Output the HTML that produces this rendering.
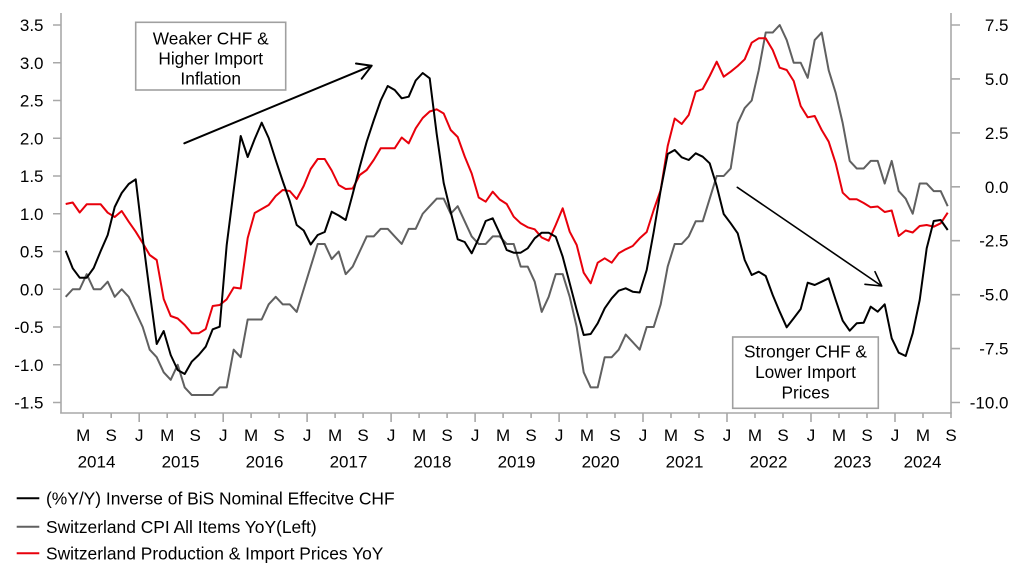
<!DOCTYPE html>
<html><head><meta charset="utf-8"><style>
html,body{margin:0;padding:0;background:#fff;}
svg{display:block;font-family:"Liberation Sans",Arial,sans-serif;}
</style></head><body>
<svg width="1022" height="586" viewBox="0 0 1022 586" xmlns="http://www.w3.org/2000/svg">
<rect width="1022" height="586" fill="#fff"/>
<!-- axes -->
<g stroke="#a8a8a8" stroke-width="1.6" fill="none">
<line x1="61" y1="13" x2="61" y2="413.5"/>
<line x1="951" y1="13" x2="951" y2="418"/>
<line x1="60.2" y1="413" x2="951.8" y2="413"/>
<!-- left ticks -->
<path d="M53 25H61M53 62.75H61M53 100.5H61M53 138.25H61M53 176H61M53 213.75H61M53 251.5H61M53 289.25H61M53 327H61M53 364.75H61M53 402.5H61"/>
<!-- right ticks -->
<path d="M951 25H960M951 78.9H960M951 132.9H960M951 186.8H960M951 240.7H960M951 294.7H960M951 348.6H960M951 402.5H960"/>
<!-- bottom ticks -->
<path d="M83.2 413V418M111.2 413V418M139.2 413V422M167.2 413V418M195.2 413V418M223.2 413V422M251.1 413V418M279.1 413V418M307.1 413V422M335.1 413V418M363.1 413V418M391.1 413V422M419.1 413V418M447.1 413V418M475.1 413V422M503.1 413V418M531.1 413V418M559.1 413V422M587 413V418M615 413V418M643 413V422M671 413V418M699 413V418M727 413V422M755 413V418M783 413V418M811 413V422M839 413V418M867 413V418M895 413V422M923 413V418"/>
</g>
<!-- left labels -->
<g font-size="17" fill="#000" text-anchor="end">
<text x="43.5" y="31">3.5</text>
<text x="43.5" y="68.75">3.0</text>
<text x="43.5" y="106.5">2.5</text>
<text x="43.5" y="144.25">2.0</text>
<text x="43.5" y="182">1.5</text>
<text x="43.5" y="219.75">1.0</text>
<text x="43.5" y="257.5">0.5</text>
<text x="43.5" y="295.25">0.0</text>
<text x="43.5" y="333">-0.5</text>
<text x="43.5" y="370.75">-1.0</text>
<text x="43.5" y="408.5">-1.5</text>
</g>
<!-- right labels -->
<g font-size="17" fill="#000" text-anchor="end">
<text x="1008.5" y="31">7.5</text>
<text x="1008.5" y="84.9">5.0</text>
<text x="1008.5" y="138.9">2.5</text>
<text x="1008.5" y="192.8">0.0</text>
<text x="1008.5" y="246.7">-2.5</text>
<text x="1008.5" y="300.7">-5.0</text>
<text x="1008.5" y="354.6">-7.5</text>
<text x="1008.5" y="408.5">-10.0</text>
</g>
<!-- month labels -->
<g font-size="17" fill="#000" text-anchor="middle">
<text x="83.2" y="441">M</text><text x="111.2" y="441">S</text><text x="139.2" y="441">J</text>
<text x="167.2" y="441">M</text><text x="195.2" y="441">S</text><text x="223.2" y="441">J</text>
<text x="251.1" y="441">M</text><text x="279.1" y="441">S</text><text x="307.1" y="441">J</text>
<text x="335.1" y="441">M</text><text x="363.1" y="441">S</text><text x="391.1" y="441">J</text>
<text x="419.1" y="441">M</text><text x="447.1" y="441">S</text><text x="475.1" y="441">J</text>
<text x="503.1" y="441">M</text><text x="531.1" y="441">S</text><text x="559.1" y="441">J</text>
<text x="587" y="441">M</text><text x="615" y="441">S</text><text x="643" y="441">J</text>
<text x="671" y="441">M</text><text x="699" y="441">S</text><text x="727" y="441">J</text>
<text x="755" y="441">M</text><text x="783" y="441">S</text><text x="811" y="441">J</text>
<text x="839" y="441">M</text><text x="867" y="441">S</text><text x="895" y="441">J</text>
<text x="923" y="441">M</text><text x="951" y="441">S</text>
</g>
<g font-size="17" fill="#000" text-anchor="middle">
<text x="96.5" y="467.5">2014</text><text x="180.5" y="467.5">2015</text><text x="264.5" y="467.5">2016</text>
<text x="348.5" y="467.5">2017</text><text x="432.5" y="467.5">2018</text><text x="516.5" y="467.5">2019</text>
<text x="600.5" y="467.5">2020</text><text x="684.5" y="467.5">2021</text><text x="768.5" y="467.5">2022</text>
<text x="852.5" y="467.5">2023</text><text x="922.5" y="467.5">2024</text>
</g>
<!-- annotation boxes -->
<rect x="135.7" y="22.3" width="150" height="67.7" fill="#fff" stroke="#a0a0a0" stroke-width="1.6"/>
<g font-size="17.3" fill="#000" text-anchor="middle">
<text x="210.7" y="44.5">Weaker CHF &amp;</text>
<text x="210.7" y="64.5">Higher Import</text>
<text x="210.7" y="84.5">Inflation</text>
</g>
<rect x="732.7" y="337" width="145.6" height="71.3" fill="#fff" stroke="#a0a0a0" stroke-width="1.6"/>
<g font-size="17.3" fill="#000" text-anchor="middle">
<text x="805.5" y="357.5">Stronger CHF &amp;</text>
<text x="805.5" y="378">Lower Import</text>
<text x="805.5" y="398.5">Prices</text>
</g>
<!-- arrows -->
<g stroke="#000" fill="none" stroke-linecap="round" stroke-linejoin="round">
<path d="M184.3 143.3L371.7 65.7M356 63.5L371.7 65.7L361.7 78.7" stroke-width="2"/>
<path d="M737.3 187.3L881.7 286M875 271.7L881.7 286L865 284.3" stroke-width="1.6"/>
</g>
<!-- CPI gray (left axis) -->
<polyline fill="none" stroke="#606060" stroke-width="2" vector-effect="non-scaling-stroke" stroke-linejoin="round"
transform="matrix(7,0,0,-75.5,65.7,289.25)"
points="0,-0.1 1,0 2,0 3,0.2 4,0 5,0 6,0.1 7,-0.1 8,0 9,-0.1 10,-0.3 11,-0.5 12,-0.8 13,-0.9 14,-1.1 15,-1.2 16,-1.0 17,-1.3 18,-1.4 19,-1.4 20,-1.4 21,-1.4 22,-1.3 23,-1.3 24,-0.8 25,-0.9 26,-0.4 27,-0.4 28,-0.4 29,-0.2 30,-0.1 31,-0.2 32,-0.2 33,-0.3 34,0 35,0.3 36,0.6 37,0.6 38,0.4 39,0.5 40,0.2 41,0.3 42,0.5 43,0.7 44,0.7 45,0.8 46,0.8 47,0.7 48,0.6 49,0.8 50,0.8 51,1.0 52,1.1 53,1.2 54,1.2 55,1.0 56,1.1 57,0.9 58,0.7 59,0.6 60,0.6 61,0.7 62,0.7 63,0.6 64,0.6 65,0.3 66,0.3 67,0.1 68,-0.3 69,-0.1 70,0.2 71,0.2 72,-0.1 73,-0.5 74,-1.1 75,-1.3 76,-1.3 77,-0.9 78,-0.9 79,-0.8 80,-0.6 81,-0.7 82,-0.8 83,-0.5 84,-0.5 85,-0.2 86,0.3 87,0.6 88,0.6 89,0.7 90,0.9 91,0.9 92,1.2 93,1.5 94,1.5 95,1.6 96,2.2 97,2.4 98,2.5 99,2.9 100,3.4 101,3.4 102,3.5 103,3.3 104,3.0 105,3.0 106,2.8 107,3.3 108,3.4 109,2.9 110,2.6 111,2.2 112,1.7 113,1.6 114,1.6 115,1.7 116,1.7 117,1.4 118,1.7 119,1.3 120,1.2 121,1.0 122,1.4 123,1.4 124,1.3 125,1.3 126,1.1"/>
<!-- Production & Import prices red (right axis) -->
<polyline fill="none" stroke="#e8000b" stroke-width="2" vector-effect="non-scaling-stroke" stroke-linejoin="round"
transform="matrix(7,0,0,1,65.7,0)"
points="0,204 1,202.5 2,212.5 3,204.3 4,204.3 5,204.3 6,212.7 7,217 8,211 9,221.7 10,231.7 11,243 12,255 13,260 14,299 15,316 16,318.5 17,325 18,333.3 19,333.3 20,329 21,306 22,305 23,299.3 24,287.5 25,288.5 26,238 27,213 28,209 29,205 30,196 31,190 32,191 33,199 34,186 35,169 36,159 37,159 38,170.5 39,185 40,189 41,188.5 42,175 43,170 44,160 45,148.3 46,148.3 47,148.3 48,137.5 49,143.3 50,128.3 51,118 52,111.5 53,109.3 54,113.5 55,130 56,137 57,156.5 58,173.5 59,197.5 60,201.7 61,191.7 62,199.5 63,204 64,216.7 65,223.3 66,227.3 67,229.3 68,237.5 69,240.7 70,225 71,208.3 72,231.7 73,245 74,272.7 75,283.3 76,262.7 77,258.3 78,262.7 79,253.3 80,249.3 81,246 82,238.3 83,232 84,210 85,190 86,146 87,118.5 88,124 89,115 90,91.7 91,89 92,76 93,61.7 94,76.7 95,71.7 96,66 97,59.3 98,42.7 99,38.3 100,38.3 101,50 102,67.7 103,70 104,81 105,106 106,117.3 107,116 108,130 109,141.7 110,163.3 111,192.7 112,199.3 113,199.3 114,203 115,207.3 116,206.5 117,212 118,210.5 119,236 120,230.5 121,232.5 122,226 123,225 124,226.7 125,223.3 126,212.7"/>
<!-- CHF black -->
<polyline fill="none" stroke="#000" stroke-width="2" vector-effect="non-scaling-stroke" stroke-linejoin="round"
transform="matrix(7,0,0,1,65.7,0)"
points="0,250.7 1,268.3 2,277.7 3,277.7 4,268 5,251 6,235 7,207 8,193 9,184 10,179.3 11,238 12,292 13,344 14,331 15,355 16,370 17,374 18,361.7 19,355 20,346.7 21,329.3 22,326.7 23,245 24,190 25,136 26,157 27,139 28,122.7 29,138 30,160 31,181 32,201 33,225 34,230.5 35,244.5 36,235 37,232 38,211.7 39,215.5 40,220 41,194 42,167 43,141.7 44,120.5 45,100.5 46,86 47,90 48,98.3 49,96.7 50,80.5 51,73 52,78.3 53,134 54,183 55,212 56,239.3 57,242 58,253.3 59,238.3 60,221 61,218.3 62,233.3 63,250 64,252.7 65,252.7 66,248.3 67,238.3 68,232.7 69,232.7 70,236.7 71,256.7 72,283.3 73,310 74,335 75,334 76,323.3 77,308.3 78,298.3 79,290.7 80,288.3 81,291.7 82,292.5 83,270 84,232 85,190 86,154 87,150 88,157.3 89,160 90,153.3 91,156.7 92,163.3 93,186 94,214 95,223.3 96,233.3 97,260 98,275 99,271.7 100,276 101,295 102,311.7 103,327.3 104,318.3 105,309 106,282.7 107,285 108,281.7 109,278.3 110,300 111,320.7 112,330.7 113,323.3 114,322.7 115,306.7 116,311.7 117,304.3 118,338.3 119,352.7 120,356 121,333.3 122,300 123,248.3 124,221 125,220 126,230"/>
<!-- legend -->
<g stroke-width="2">
<line x1="16.7" y1="498.3" x2="39.3" y2="498.3" stroke="#000"/>
<line x1="16.7" y1="526.7" x2="39.3" y2="526.7" stroke="#606060"/>
<line x1="16.7" y1="553.3" x2="39.3" y2="553.3" stroke="#e8000b"/>
</g>
<g font-size="17.4" fill="#000">
<text x="46" y="504.5">(%Y/Y) Inverse of BiS Nominal Effecitve CHF</text>
<text x="46" y="532.9">Switzerland CPI All Items YoY(Left)</text>
<text x="46" y="559.5">Switzerland Production &amp; Import Prices YoY</text>
</g>
</svg>
</body></html>
